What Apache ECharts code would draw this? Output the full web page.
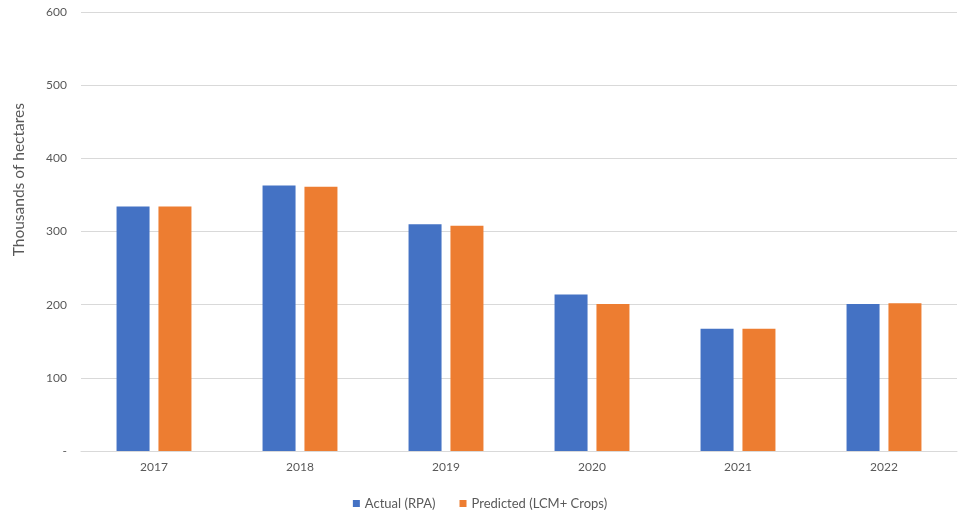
<!DOCTYPE html>
<html><head><meta charset="utf-8">
<script src="https://cdn.jsdelivr.net/npm/echarts@6/dist/echarts.min.js"></script>
<style>html,body{margin:0;padding:0;background:#fff}#c{width:960px;height:519px}</style>
</head><body><div id="c"></div>
<script>
const categories = ['2017','2018','2019','2020','2021','2022'];
const actualRPA = [334, 363, 310, 214, 167, 201];
const predictedLCM = [334, 361, 308, 201, 167, 202];
const seriesNames = ['Actual (RPA)', 'Predicted (LCM+ Crops)'];
const yTicks = [0, 100, 200, 300, 400, 500, 600];

const font = 'Lato, "Open Sans", sans-serif';
const chart = echarts.init(document.getElementById('c'));
chart.setOption({
  animation: false,
  textStyle: {fontFamily: font},
  grid: {left: 81, right: 3, top: 12, bottom: 68},
  legend: {
    bottom: 4, left: 'center', itemWidth: 7, itemHeight: 7, itemGap: 24,
    icon: 'rect',
    textStyle: {color: '#595959', fontSize: 13, fontFamily: font},
    data: seriesNames
  },
  graphic: [{
    type: 'text', left: 11, top: 103, rotation: Math.PI/2,
    style: {text: 'Thousands of hectares', fill: '#595959', font: '15.5px ' + font}
  }],
  xAxis: {
    type: 'category', data: categories,
    axisLine: {show: true, lineStyle: {color: '#D9D9D9'}},
    axisTick: {show: false},
    axisLabel: {color: '#595959', fontSize: 12, margin: 10, fontFamily: font}
  },
  yAxis: {
    type: 'value', min: yTicks[0], max: yTicks[yTicks.length-1], interval: 100,
    axisLine: {show: false}, axisTick: {show: false},
    splitLine: {lineStyle: {color: '#D9D9D9'}},
    axisLabel: {color: '#595959', fontSize: 12, margin: 14, fontFamily: font,
      formatter: v => v === 0 ? '-' : String(v)}
  },
  series: [
    {name: seriesNames[0], type: 'bar', data: actualRPA, barWidth: 33, barGap: '27%',
     itemStyle: {color: '#4472C4'}},
    {name: seriesNames[1], type: 'bar', data: predictedLCM, barWidth: 33,
     itemStyle: {color: '#ED7D31'}}
  ]
});
</script></body></html>
